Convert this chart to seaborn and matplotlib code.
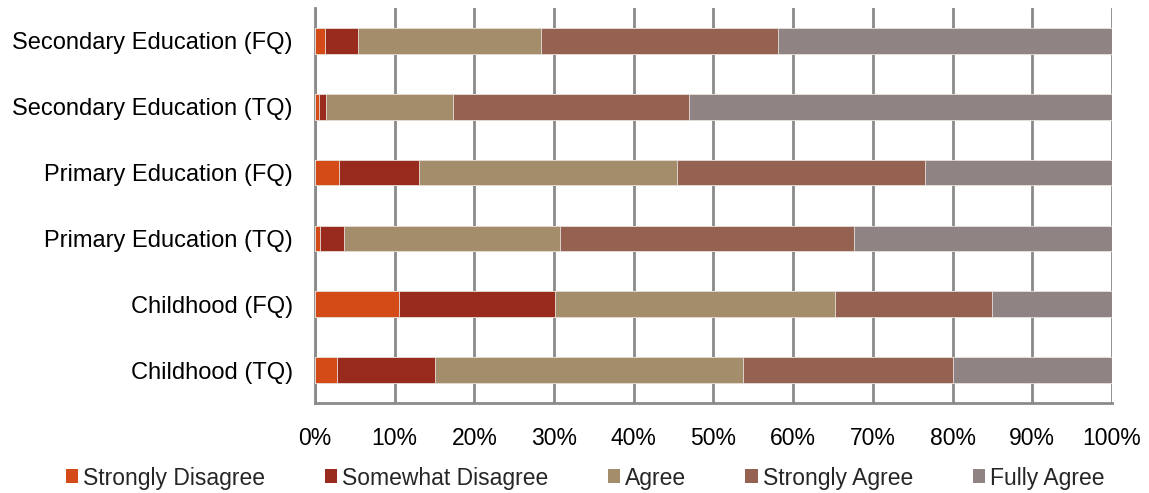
import numpy as np
import pandas as pd
import matplotlib
matplotlib.use("Agg")
import matplotlib.pyplot as plt
from matplotlib.patches import Patch
import seaborn as sns

# Survey groups, listed top to bottom
categories = [
    "Secondary Education (FQ)",
    "Secondary Education (TQ)",
    "Primary Education (FQ)",
    "Primary Education (TQ)",
    "Childhood (FQ)",
    "Childhood (TQ)",
]

# Share of answers per response level (%)
strongly_disagree = [1.3, 0.5, 3.0, 0.6, 10.6, 2.8]
somewhat_disagree = [4.1, 0.9, 10.0, 3.0, 19.5, 12.2]
agree = [23.0, 15.9, 32.4, 27.1, 35.1, 38.7]
strongly_agree = [29.7, 29.6, 31.1, 36.9, 19.8, 26.3]
fully_agree = [41.9, 53.1, 23.5, 32.4, 15.0, 20.0]

levels = ["Strongly Disagree", "Somewhat Disagree", "Agree", "Strongly Agree", "Fully Agree"]
colors = ["#D44B17", "#992B1E", "#A38D6A", "#956251", "#8F8483"]
x_ticks = [0, 10, 20, 30, 40, 50, 60, 70, 80, 90, 100]

series = [strongly_disagree, somewhat_disagree, agree, strongly_agree, fully_agree]
cum = np.cumsum(np.array(series, dtype=float), axis=0)

sns.set_style("white")
plt.rcParams["font.family"] = ["Liberation Sans", "DejaVu Sans"]

fig = plt.figure(figsize=(11.49, 4.93), dpi=100)
ax = fig.add_axes([315 / 1149, 1 - 403 / 493, 797 / 1149, 395 / 493])

# Stacked bars: draw running totals from the largest down so each segment shows
for i in range(len(levels) - 1, -1, -1):
    df = pd.DataFrame({"group": categories, "value": cum[i]})
    sns.barplot(data=df, x="value", y="group", orient="h", color=colors[i],
                width=0.39, saturation=1, edgecolor="#E8E2DC", linewidth=0.6,
                ax=ax, zorder=3)

ax.set_xlim(0, 100)
ax.set_ylim(len(categories) - 0.5, -0.5)
ax.set_xticks(x_ticks)
ax.set_xticklabels([f"{t}%" for t in x_ticks], fontsize=16.5)
ax.set_xlabel("")
ax.set_ylabel("")

# Category labels centred on bars, tick marks on the boundaries between them
ax.set_yticks(range(len(categories)))
ax.set_yticklabels(categories, fontsize=17)
ax.set_yticks(np.arange(-0.5, len(categories), 1.0), minor=True)
ax.tick_params(axis="y", which="major", length=0, pad=16)
ax.tick_params(axis="y", which="minor", length=7, width=2, color="#8A8A8A", direction="out")
ax.tick_params(axis="x", which="major", length=7, width=2, color="#8A8A8A",
               direction="out", pad=10)
ax.tick_params(axis="both", labelcolor="#000000")

ax.grid(axis="x", color="#8A8A8A", linewidth=2, zorder=0)
ax.grid(axis="y", visible=False)
for side in ["top", "right"]:
    ax.spines[side].set_visible(False)
for side in ["left", "bottom"]:
    ax.spines[side].set_color("#8A8A8A")
    ax.spines[side].set_linewidth(2)
ax.set_axisbelow(True)

handles = [Patch(facecolor=c, edgecolor="none", label=l) for c, l in zip(colors, levels)]
fig.legend(handles=handles, loc="center", bbox_to_anchor=(585 / 1149, 1 - 478 / 493), ncol=5,
           frameon=False, fontsize=16.5, handlelength=0.55, handleheight=0.55,
           handletextpad=0.2, columnspacing=2.6)

fig.savefig("out.png", dpi=100)
